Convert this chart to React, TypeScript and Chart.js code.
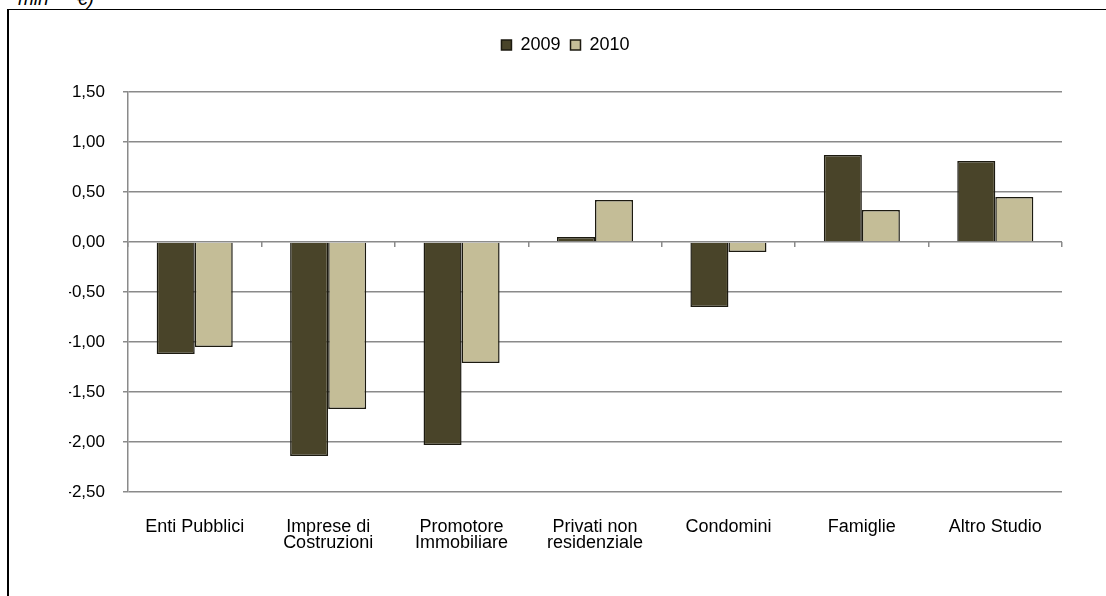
import React, { useEffect, useRef } from 'react';
import { Chart, registerables } from 'chart.js';

Chart.register(...registerables);

const categories: (string | string[])[] = [
  'Enti Pubblici',
  ['Imprese di', 'Costruzioni'],
  ['Promotore', 'Immobiliare'],
  ['Privati non', 'residenziale'],
  'Condomini',
  'Famiglie',
  'Altro Studio',
];
const seriesNames = ['2009', '2010'];
const values2009 = [-1.12, -2.14, -2.03, 0.05, -0.65, 0.87, 0.81];
const values2010 = [-1.05, -1.67, -1.21, 0.42, -0.1, 0.32, 0.45];
const yMin = -2.5;
const yMax = 1.5;
const yStep = 0.5;

const FONT = '"Liberation Sans", Arial, sans-serif';
const GRID = '#8a8a8a';

const legendSpacer = {
  id: 'legendSpacer',
  beforeInit(chart: any) {
    const legend = chart.legend;
    if (!legend) return;
    const orig = legend.fit;
    legend.fit = function () {
      orig.call(this);
      this.height += 28;
    };
  },
};

function ChartView() {
  const ref = useRef<HTMLCanvasElement | null>(null);
  useEffect(() => {
    if (!ref.current) return;
    const chart = new Chart(ref.current, {
      type: 'bar',
      data: {
        labels: categories as any,
        datasets: [
          {
            label: seriesNames[0],
            data: values2009,
            backgroundColor: '#494429',
            borderColor: '#1c1a10',
            borderWidth: 1.5,
          },
          {
            label: seriesNames[1],
            data: values2010,
            backgroundColor: '#C4BD97',
            borderColor: '#1c1a10',
            borderWidth: 1.5,
          },
        ],
      },
      plugins: [legendSpacer],
      options: {
        animation: false,
        responsive: false,
        maintainAspectRatio: false,
        layout: { padding: { left: 69, right: 44, top: 26, bottom: 0 } },
        datasets: {
          bar: { categoryPercentage: 0.57, barPercentage: 1 },
        },
        plugins: {
          legend: {
            display: true,
            position: 'top',
            labels: {
              boxWidth: 10,
              boxHeight: 10,
              padding: 10,
              color: '#000',
              font: { family: FONT, size: 18 },
            },
          },
          tooltip: { enabled: false },
          title: { display: false },
        },
        scales: {
          x: {
            type: 'category',
            position: 'bottom',
            offset: true,
            grid: { display: false },
            border: { display: false },
            ticks: {
              color: '#000',
              padding: 19,
              maxRotation: 0,
              autoSkip: false,
              font: { family: FONT, size: 18, lineHeight: '16px' } as any,
            },
            afterFit(scale: any) {
              scale.height = 104;
            },
          },
          xZero: {
            type: 'category',
            position: { y: 0 } as any,
            offset: true,
            grid: {
              display: true,
              drawOnChartArea: false,
              drawTicks: true,
              tickLength: 5,
              color: GRID,
              lineWidth: 1.5,
              offset: true,
            },
            border: { display: false },
            ticks: { display: false },
          } as any,
          y: {
            min: yMin,
            max: yMax,
            grid: {
              color: GRID,
              lineWidth: 1.5,
              tickLength: 5,
              drawTicks: true,
            },
            border: { display: true, color: GRID, width: 1.5 },
            ticks: {
              stepSize: yStep,
              padding: 18,
              color: '#000',
              font: { family: FONT, size: 17 },
              callback: (v: any) => Number(v).toFixed(2).replace('.', ','),
            },
            afterFit(scale: any) {
              scale.width = 59;
            },
          },
        },
      } as any,
    });
    return () => chart.destroy();
  }, []);
  return <canvas ref={ref} width={1106} height={596} style={{ position: 'absolute', left: 0, top: 0, width: 1106, height: 596 }} />;
}

export default function App() {
  return (
    <div style={{ position: 'fixed', left: 0, top: 0, width: 1106, height: 596, overflow: 'hidden', background: '#fff' }}>
      <div
        style={{
          position: 'absolute',
          left: 18,
          top: -10.5,
          fontFamily: FONT,
          fontStyle: 'italic',
          fontSize: 19,
          lineHeight: '17px',
          wordSpacing: 23,
          color: '#000',
          whiteSpace: 'nowrap',
        }}
      >
        mln €)
      </div>
      <div
        style={{
          position: 'absolute',
          left: 7,
          top: 9,
          width: 1120,
          height: 620,
          borderLeft: '2px solid #000',
          borderTop: '1px solid #000',
        }}
      />
      <ChartView />
    </div>
  );
}
